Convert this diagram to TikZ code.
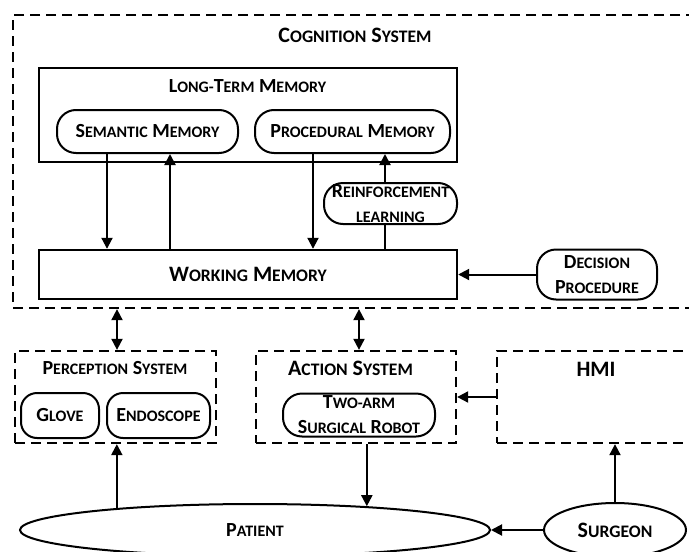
\documentclass[tikz,border=0pt]{standalone}
\usepackage{fontspec}
\setmainfont{Carlito}
\usetikzlibrary{arrows.meta,shapes.geometric}
\makeatletter
\newcommand\lowcaps[1]{{\fontsize{\fpeval{0.8*\f@size}}{\f@baselineskip}\selectfont #1}}
\makeatother

\begin{document}
\begin{tikzpicture}[x=1pt,y=-1pt]
\tikzstyle{txt}=[font=\bfseries\fontsize{20}{25}\selectfont,align=center,inner sep=0pt]
\tikzstyle{bigtxt}=[txt,font=\bfseries\fontsize{22}{25}\selectfont]
\tikzstyle{box}=[txt,draw,line width=2.4pt]
\tikzstyle{dbox}=[draw,line width=2.3pt,dash pattern=on 10pt off 6pt,inner sep=0pt]
\tikzstyle{pill}=[txt,draw,line width=2pt,rounded corners=19pt]
\tikzstyle{roundbox}=[txt,draw,line width=2pt,rounded corners=16pt]
\tikzstyle{blob}=[txt,draw,line width=2pt,ellipse]
\tikzstyle{link}=[line width=2pt,-{Triangle[length=11pt,width=11pt]}]
\tikzstyle{dual}=[line width=2pt,{Triangle[length=11pt,width=11pt]}-{Triangle[length=11pt,width=11pt]}]
\clip (0,0) rectangle (689,552);

% ========= cognition system
\node (cog) [dbox, minimum width=707pt, minimum height=293pt] at (366.5,161.5) {};
\node (cogtitle) [bigtxt] at (355,35) {C\lowcaps{OGNITION} S\lowcaps{YSTEM}};

\node (ltm) [box, minimum width=418pt, minimum height=94pt] at (248,115) {};
\node (ltmtitle) [txt] at (247.5,86) {L\lowcaps{ONG-}T\lowcaps{ERM} M\lowcaps{EMORY}};
\node (sem) [pill, minimum width=181pt, minimum height=43pt] at (147.5,131.5) {S\lowcaps{EMANTIC} M\lowcaps{EMORY}};
\node (proc) [pill, minimum width=195pt, minimum height=43pt] at (352.5,131.5) {P\lowcaps{ROCEDURAL} M\lowcaps{EMORY}};

\node (rl) [pill, minimum width=133pt, minimum height=41pt] at (390.5,203.5) {R\lowcaps{EINFORCEMENT}\\\lowcaps{LEARNING}};
\node (wm) [box, font=\bfseries\fontsize{22}{25}\selectfont, minimum width=418pt, minimum height=49pt] at (248,274.5) {W\lowcaps{ORKING} M\lowcaps{EMORY}};
\node (dp) [pill, minimum width=120pt, minimum height=50pt] at (597,274.5) {D\lowcaps{ECISION}\\P\lowcaps{ROCEDURE}};

% ========= perception, action, hmi
\node (perc) [dbox, minimum width=201pt, minimum height=92pt] at (115.5,397) {};
\node (perctitle) [txt] at (115,368) {P\lowcaps{ERCEPTION} S\lowcaps{YSTEM}};
\node (glove) [roundbox, minimum width=78pt, minimum height=45pt] at (60,415.5) {G\lowcaps{LOVE}};
\node (endo) [roundbox, minimum width=103pt, minimum height=45pt] at (158.5,415.5) {E\lowcaps{NDOSCOPE}};

\node (act) [dbox, minimum width=200pt, minimum height=92pt] at (356,397) {};
\node (acttitle) [bigtxt] at (350.5,368) {A\lowcaps{CTION} S\lowcaps{YSTEM}};
\node (robot) [pill, minimum width=152pt, minimum height=43pt] at (359,415) {T\lowcaps{WO-ARM}\\S\lowcaps{URGICAL} R\lowcaps{OBOT}};

\node (hmi) [dbox, minimum width=223pt, minimum height=92pt] at (608.5,397) {};
\node (hmititle) [bigtxt] at (596,369) {HMI};

% ========= patient and surgeon
\node (patient) [blob, minimum width=470pt, minimum height=52pt] at (255,530) {P\lowcaps{ATIENT}};
\node (surgeon) [blob, font=\bfseries\fontsize{22}{25}\selectfont, minimum width=142pt, minimum height=54pt] at (615,530) {S\lowcaps{URGEON}};

% ====== connections
\coordinate (semdown) at ([xshift=-40.5pt]sem.south);
\coordinate (semup) at ([xshift=22.5pt]sem.south);
\coordinate (procdown) at ([xshift=-39.5pt]proc.south);
\coordinate (rlup) at ([xshift=-5.5pt]rl.north);
\draw [link] (semdown) -- (semdown |- wm.north);
\draw [link] (semup |- wm.north) -- (semup);
\draw [link] (procdown) -- (procdown |- wm.north);
\draw [link] (rlup) -- (rlup |- proc.south);
\draw [line width=2pt] (rlup |- rl.south) -- (rlup |- wm.north);
\draw [link] (dp.west) -- (dp.west -| wm.east);

\coordinate (percup) at ([xshift=1.5pt]perc.north);
\coordinate (actup) at ([xshift=3pt]act.north);
\draw [dual] (percup) -- (percup |- cog.south);
\draw [dual] (actup) -- (actup |- cog.south);
\draw [link] (hmi.west) -- (act.east);

\draw [link] (patient.171.4) -- (patient.171.4 |- perc.south);
\draw [link] (patient.12.6 |- act.south) -- (patient.12.6);
\draw [link] (surgeon.north) -- (surgeon.north |- hmi.south);
\draw [link] (surgeon.west) -- (patient.east);
\end{tikzpicture}
\end{document}
